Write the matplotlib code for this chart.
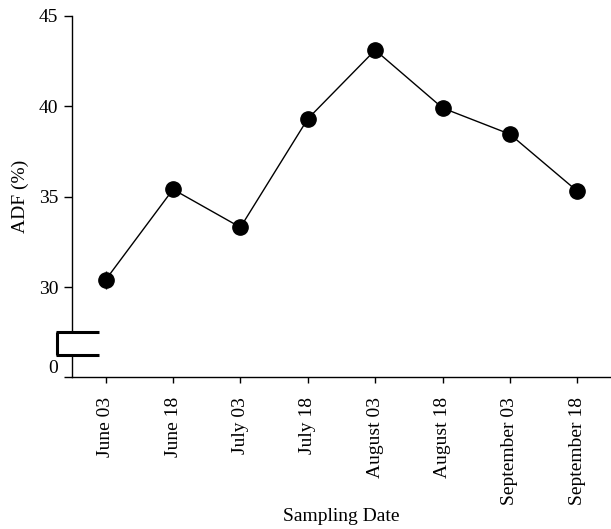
"""
ADF (%) by sampling date, with a broken y axis (0 ... 30-45).
"""
import matplotlib
matplotlib.use("Agg")
import matplotlib.pyplot as plt

# ── DATA ──────────────────────────────────────────────────────────
dates = ["June 03", "June 18", "July 03", "July 18",
         "August 03", "August 18", "September 03", "September 18"]
adf = [30.4, 35.4, 33.3, 39.3, 43.1, 39.9, 38.45, 35.3]
adf_err = [0.5, 0.2, 0.2, 0.2, 0.2, 0.2, 0.2, 0.2]
ytick_vals = [25, 30, 35, 40, 45]
ytick_labels = ["0", "30", "35", "40", "45"]
# ─────────────────────────────────────────────────────────────────

plt.rcParams["font.family"] = ["Liberation Serif", "DejaVu Serif"]
plt.rcParams["font.size"] = 14

fig = plt.figure(figsize=(6.11, 5.29), dpi=100)
ax = fig.add_axes([0.1178, 0.2864, 0.8822, 0.6839])

x = range(len(dates))
ax.errorbar(x, adf, yerr=adf_err, fmt="o-", color="black", ecolor="black",
            markersize=11, linewidth=1, elinewidth=1, capsize=0, zorder=3)

ax.set_xlim(-0.5, len(dates) - 0.5)
ax.set_ylim(25, 45)
ax.set_xticks(list(x))
ax.set_xticklabels(dates, rotation=90)
ax.set_yticks(ytick_vals)
ax.set_yticklabels(ytick_labels)
ax.get_yticklabels()[0].set_verticalalignment("bottom")

ax.tick_params(axis="y", direction="out", length=6, width=1, pad=4)
ax.tick_params(axis="x", direction="out", length=4, width=1, pad=10)

for side in ("top", "right", "left"):
    ax.spines[side].set_visible(False)
ax.spines["bottom"].set_linewidth(1)

# left spine drawn by hand with a gap for the axis break
yt = ax.get_yaxis_transform()
brk_lo, brk_hi = 26.24, 27.49
ax.plot([0, 0], [25, brk_lo], color="black", lw=1, transform=yt, clip_on=False)
ax.plot([0, 0], [brk_hi, 45], color="black", lw=1, transform=yt, clip_on=False)
for yb in (brk_lo, brk_hi):
    ax.plot([-0.03, 0.05], [yb, yb], color="black", lw=2.2,
            transform=yt, clip_on=False, solid_capstyle="butt")
ax.plot([-0.028, -0.028], [brk_lo, brk_hi], color="black", lw=2.2,
        transform=yt, clip_on=False, solid_capstyle="butt")

ax.set_ylabel("ADF (%)", labelpad=7)
ax.set_xlabel("Sampling Date", labelpad=2)

fig.savefig("out.png", dpi=100)
